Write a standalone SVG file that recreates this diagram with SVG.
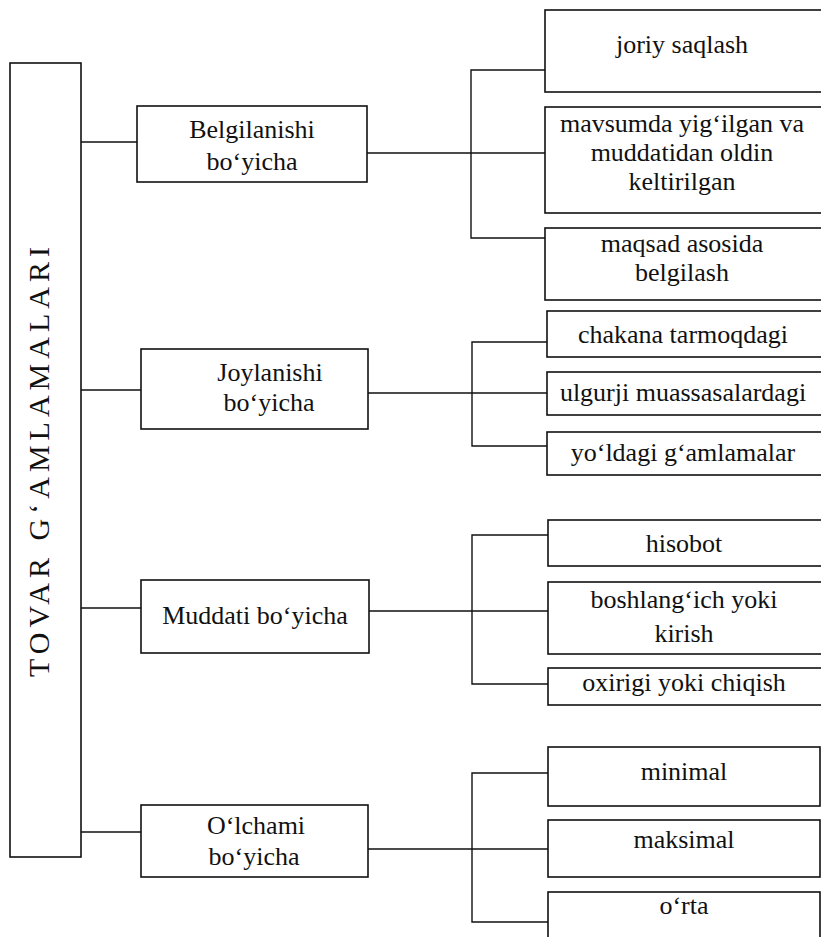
<svg xmlns="http://www.w3.org/2000/svg" width="821" height="937" viewBox="0 0 821 937">
<style>
.box{fill:#fff;stroke:#111;stroke-width:1.6}
.ln{fill:none;stroke:#111;stroke-width:1.4}
text{font-family:"Liberation Serif","Times New Roman",serif;font-size:26px;fill:#111;text-anchor:middle}
.v{font-size:30px}
</style>
<rect width="821" height="937" fill="#fff"/>
<g id="connectors">
<path class="ln" d="M81,142H137M81,390H141M81,608H141M81,832H141"/>
<path class="ln" d="M367,153H545M545,70H471V238H545"/>
<path class="ln" d="M368,393H547M547,342H472V446H547"/>
<path class="ln" d="M369,611H548M548,535H472V684H548"/>
<path class="ln" d="M368,849H548M548,773H472V922H548"/>
</g>
<g id="root"><rect class="box" x="10" y="63" width="71" height="794"/>
<text class="v" transform="translate(49,462) rotate(-90)" textLength="430" lengthAdjust="spacing">TOVAR  G‘AMLAMALARI</text></g>
<g id="belgilanishi"><rect class="box" x="137" y="106" width="230" height="76"/>
<text x="252" y="138">Belgilanishi</text><text x="252" y="170">bo‘yicha</text></g>
<g id="joylanishi"><rect class="box" x="141" y="349" width="227" height="80"/>
<text x="270" y="381">Joylanishi</text><text x="269" y="411">bo‘yicha</text></g>
<g id="muddati"><rect class="box" x="141" y="580" width="228" height="73"/>
<text x="255" y="624">Muddati bo‘yicha</text></g>
<g id="olchami"><rect class="box" x="141" y="805" width="227" height="72"/>
<text x="256" y="834">O‘lchami</text><text x="254" y="865">bo‘yicha</text></g>
<g id="joriy"><rect class="box" x="545" y="10" width="280" height="82"/><text x="682" y="53">joriy saqlash</text></g>
<g id="mavsumda"><rect class="box" x="545" y="107" width="280" height="106"/>
<text x="682" y="132">mavsumda yig‘ilgan va</text><text x="682" y="161">muddatidan oldin</text><text x="682" y="190">keltirilgan</text></g>
<g id="maqsad"><rect class="box" x="545" y="228" width="280" height="72"/>
<text x="682" y="252">maqsad asosida</text><text x="682" y="281">belgilash</text></g>
<g id="chakana"><rect class="box" x="547" y="311" width="280" height="46"/><text x="683" y="343">chakana tarmoqdagi</text></g>
<g id="ulgurji"><rect class="box" x="547" y="372" width="280" height="43"/><text x="683" y="401">ulgurji muassasalardagi</text></g>
<g id="yoldagi"><rect class="box" x="547" y="432" width="280" height="43"/><text x="683" y="461">yo‘ldagi g‘amlamalar</text></g>
<g id="hisobot"><rect class="box" x="548" y="520" width="280" height="46"/><text x="684" y="552">hisobot</text></g>
<g id="boshlangich"><rect class="box" x="548" y="582" width="280" height="72"/>
<text x="684" y="608">boshlang‘ich yoki</text><text x="684" y="642">kirish</text></g>
<g id="oxirigi"><rect class="box" x="548" y="668" width="280" height="37"/><text x="684" y="691">oxirigi yoki chiqish</text></g>
<g id="minimal"><rect class="box" x="548" y="747" width="272" height="59"/><text x="684" y="780">minimal</text></g>
<g id="maksimal"><rect class="box" x="548" y="820" width="272" height="57"/><text x="684" y="848">maksimal</text></g>
<g id="orta"><rect class="box" x="548" y="892" width="272" height="60"/><text x="684" y="914">o‘rta</text></g>
</svg>
